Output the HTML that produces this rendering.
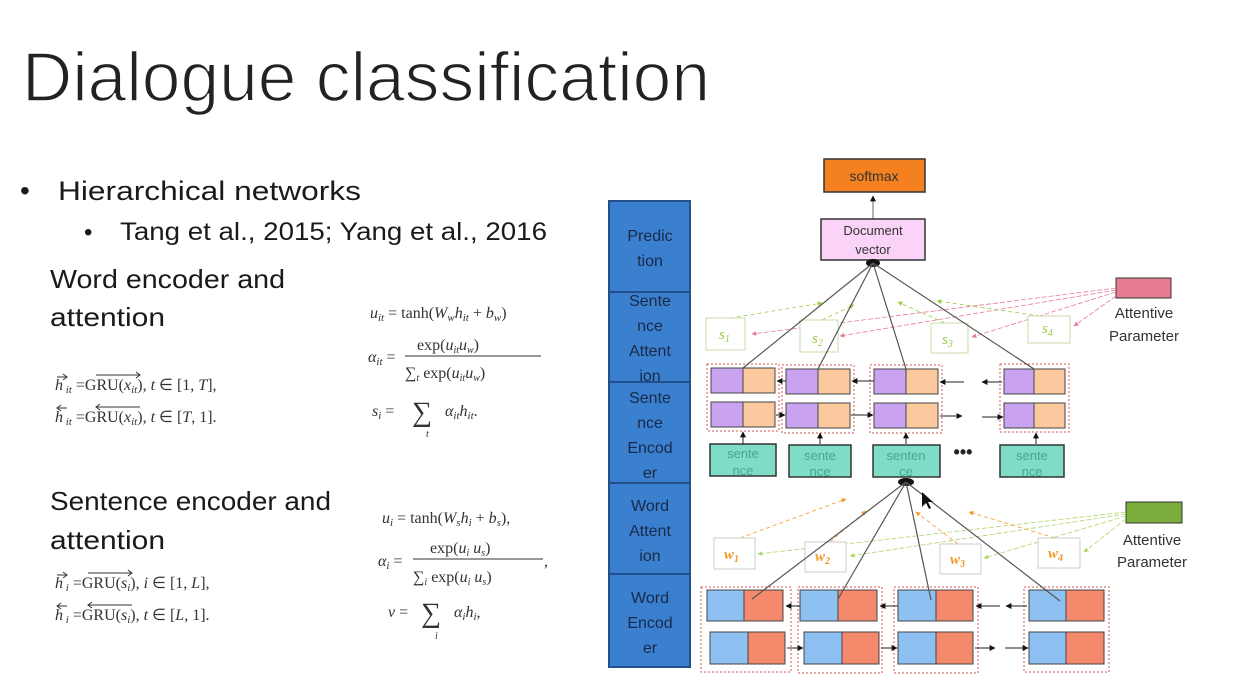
<!DOCTYPE html>
<html><head><meta charset="utf-8"><style>
html,body{margin:0;padding:0;background:#fff;}
svg{display:block;}
.s{font-family:"Liberation Sans",sans-serif;}
.m{font-family:"Liberation Serif",serif;font-size:16px;fill:#333;}
.col text{fill:#172a48;}
</style></head><body>
<svg width="1238" height="684" viewBox="0 0 1238 684" xmlns="http://www.w3.org/2000/svg">
<defs>
<marker id="a" viewBox="0 0 10 10" refX="9" refY="5" markerWidth="6" markerHeight="6" orient="auto"><path d="M0,0L10,5L0,10z" fill="#111"/></marker>
<marker id="g" viewBox="0 0 10 10" refX="9" refY="5" markerWidth="6" markerHeight="6" orient="auto"><path d="M0,0L10,5L0,10z" fill="#9c4"/></marker>
<marker id="p" viewBox="0 0 10 10" refX="9" refY="5" markerWidth="6" markerHeight="6" orient="auto"><path d="M0,0L10,5L0,10z" fill="#e57c94"/></marker>
<marker id="o" viewBox="0 0 10 10" refX="9" refY="5" markerWidth="6" markerHeight="6" orient="auto"><path d="M0,0L10,5L0,10z" fill="#f39a2b"/></marker>
</defs>
<rect width="1238" height="684" fill="#fff"/>
<g class="s" fill="#1a1a1a">
<text x="22" y="101" font-size="70" textLength="688" lengthAdjust="spacingAndGlyphs" fill="#222" stroke="#fff" stroke-width="1.6">Dialogue classification</text>
<text x="20" y="200" font-size="28">•</text>
<text x="58" y="200" font-size="27" textLength="303" lengthAdjust="spacingAndGlyphs">Hierarchical networks</text>
<text x="84" y="240" font-size="24">•</text>
<text x="120" y="240" font-size="25" textLength="427" lengthAdjust="spacingAndGlyphs">Tang et al., 2015; Yang et al., 2016</text>
<text x="50" y="288" font-size="26" textLength="235" lengthAdjust="spacingAndGlyphs">Word encoder and</text>
<text x="50" y="326" font-size="26" textLength="115" lengthAdjust="spacingAndGlyphs">attention</text>
<text x="50" y="510" font-size="26" textLength="281" lengthAdjust="spacingAndGlyphs">Sentence encoder and</text>
<text x="50" y="549" font-size="26" textLength="115" lengthAdjust="spacingAndGlyphs">attention</text>
</g>
<g class="m">
<text x="55" y="390"><tspan font-style="italic">h</tspan><tspan font-size="11" font-style="italic" dy="3"> it</tspan><tspan dy="-3"> =GRU(</tspan><tspan font-style="italic">x</tspan><tspan font-size="11" font-style="italic" dy="3">it</tspan><tspan dy="-3">), </tspan><tspan font-style="italic">t</tspan> ∈ [1, <tspan font-style="italic">T</tspan>],</text>
<text x="55" y="422"><tspan font-style="italic">h</tspan><tspan font-size="11" font-style="italic" dy="3"> it</tspan><tspan dy="-3"> =GRU(</tspan><tspan font-style="italic">x</tspan><tspan font-size="11" font-style="italic" dy="3">it</tspan><tspan dy="-3">), </tspan><tspan font-style="italic">t</tspan> ∈ [<tspan font-style="italic">T</tspan>, 1].</text>
<path d="M57,377h10M63,374l4,3-4,3M96,375h44M136,372l4,3-4,3M57,408h10M61,405l-4,3 4,3M96,407h44M100,404l-4,3 4,3" stroke="#333" fill="none" stroke-width="1"/>
<text x="370" y="318"><tspan font-style="italic">u</tspan><tspan font-size="11" font-style="italic" dy="3">it</tspan><tspan dy="-3"> = tanh(</tspan><tspan font-style="italic">W</tspan><tspan font-size="11" font-style="italic" dy="3">w</tspan><tspan dy="-3" font-style="italic">h</tspan><tspan font-size="11" font-style="italic" dy="3">it</tspan><tspan dy="-3"> + </tspan><tspan font-style="italic">b</tspan><tspan font-size="11" font-style="italic" dy="3">w</tspan><tspan dy="-3">)</tspan></text>
<text x="368" y="362"><tspan font-style="italic">α</tspan><tspan font-size="11" font-style="italic" dy="3">it</tspan><tspan dy="-3"> =</tspan></text>
<text x="417" y="350">exp(<tspan font-style="italic">u</tspan><tspan font-size="10" font-style="italic" dy="3">it</tspan><tspan dy="-3" font-style="italic">u</tspan><tspan font-size="10" font-style="italic" dy="3">w</tspan><tspan dy="-3">)</tspan></text>
<line x1="405" y1="356" x2="541" y2="356" stroke="#333"/>
<text x="405" y="378">∑<tspan font-size="10" font-style="italic" dy="3">t</tspan><tspan dy="-3"> exp(</tspan><tspan font-style="italic">u</tspan><tspan font-size="10" font-style="italic" dy="3">it</tspan><tspan dy="-3" font-style="italic">u</tspan><tspan font-size="10" font-style="italic" dy="3">w</tspan><tspan dy="-3">)</tspan></text>
<text x="372" y="416"><tspan font-style="italic">s</tspan><tspan font-size="11" font-style="italic" dy="3">i</tspan><tspan dy="-3"> =</tspan></text>
<text x="412" y="421" font-size="28">∑</text>
<text x="426" y="437" font-size="10" font-style="italic">t</text>
<text x="445" y="416"><tspan font-style="italic">α</tspan><tspan font-size="11" font-style="italic" dy="3">it</tspan><tspan dy="-3" font-style="italic">h</tspan><tspan font-size="11" font-style="italic" dy="3">it</tspan><tspan dy="-3">.</tspan></text>
<text x="55" y="588"><tspan font-style="italic">h</tspan><tspan font-size="11" font-style="italic" dy="3"> i</tspan><tspan dy="-3"> =GRU(</tspan><tspan font-style="italic">s</tspan><tspan font-size="11" font-style="italic" dy="3">i</tspan><tspan dy="-3">), </tspan><tspan font-style="italic">i</tspan> ∈ [1, <tspan font-style="italic">L</tspan>],</text>
<text x="55" y="620"><tspan font-style="italic">h</tspan><tspan font-size="11" font-style="italic" dy="3"> i</tspan><tspan dy="-3"> =GRU(</tspan><tspan font-style="italic">s</tspan><tspan font-size="11" font-style="italic" dy="3">i</tspan><tspan dy="-3">), </tspan><tspan font-style="italic">t</tspan> ∈ [<tspan font-style="italic">L</tspan>, 1].</text>
<path d="M57,575h10M63,572l4,3-4,3M88,573h44M128,570l4,3-4,3M57,606h10M61,603l-4,3 4,3M88,605h44M92,602l-4,3 4,3" stroke="#333" fill="none" stroke-width="1"/>
<text x="382" y="523"><tspan font-style="italic">u</tspan><tspan font-size="11" font-style="italic" dy="3">i</tspan><tspan dy="-3"> = tanh(</tspan><tspan font-style="italic">W</tspan><tspan font-size="11" font-style="italic" dy="3">s</tspan><tspan dy="-3" font-style="italic">h</tspan><tspan font-size="11" font-style="italic" dy="3">i</tspan><tspan dy="-3"> + </tspan><tspan font-style="italic">b</tspan><tspan font-size="11" font-style="italic" dy="3">s</tspan><tspan dy="-3">),</tspan></text>
<text x="378" y="566"><tspan font-style="italic">α</tspan><tspan font-size="11" font-style="italic" dy="3">i</tspan><tspan dy="-3"> =</tspan></text>
<text x="430" y="553">exp(<tspan font-style="italic">u</tspan><tspan font-size="10" font-style="italic" dy="3">i</tspan><tspan dy="-3" font-style="italic"> u</tspan><tspan font-size="10" font-style="italic" dy="3">s</tspan><tspan dy="-3">)</tspan></text>
<line x1="413" y1="559" x2="543" y2="559" stroke="#333"/>
<text x="413" y="582">∑<tspan font-size="10" font-style="italic" dy="3">i</tspan><tspan dy="-3"> exp(</tspan><tspan font-style="italic">u</tspan><tspan font-size="10" font-style="italic" dy="3">i</tspan><tspan dy="-3" font-style="italic"> u</tspan><tspan font-size="10" font-style="italic" dy="3">s</tspan><tspan dy="-3">)</tspan></text>
<text x="544" y="566">,</text>
<text x="388" y="617"><tspan font-style="italic">v</tspan> =</text>
<text x="421" y="622" font-size="28">∑</text>
<text x="435" y="639" font-size="10" font-style="italic">i</text>
<text x="454" y="617"><tspan font-style="italic">α</tspan><tspan font-size="11" font-style="italic" dy="3">i</tspan><tspan dy="-3" font-style="italic">h</tspan><tspan font-size="11" font-style="italic" dy="3">i</tspan><tspan dy="-3">,</tspan></text>
</g>
<g class="s col" font-size="16" text-anchor="middle">
<rect x="609" y="201" width="81" height="466" fill="#3b7fcf" stroke="#22508a" stroke-width="2"/>
<line x1="609" y1="292" x2="690" y2="292" stroke="#22508a" stroke-width="2"/>
<line x1="609" y1="382" x2="690" y2="382" stroke="#22508a" stroke-width="2"/>
<line x1="609" y1="483" x2="690" y2="483" stroke="#22508a" stroke-width="2"/>
<line x1="609" y1="574" x2="690" y2="574" stroke="#22508a" stroke-width="2"/>
<text x="650" y="241">Predic</text><text x="650" y="266">tion</text>
<text x="650" y="306">Sente</text><text x="650" y="331">nce</text><text x="650" y="356">Attent</text><text x="650" y="381">ion</text>
<text x="650" y="403">Sente</text><text x="650" y="428">nce</text><text x="650" y="453">Encod</text><text x="650" y="478">er</text>
<text x="650" y="511">Word</text><text x="650" y="536">Attent</text><text x="650" y="561">ion</text>
<text x="650" y="603">Word</text><text x="650" y="628">Encod</text><text x="650" y="653">er</text>
</g>
<rect x="824" y="159" width="101" height="33" fill="#f4801f" stroke="#333" stroke-width="1.5"/>
<text x="874" y="181" class="s" font-size="14" fill="#333" text-anchor="middle">softmax</text>
<line x1="873" y1="219" x2="873" y2="196" stroke="#666" marker-end="url(#a)"/>
<rect x="821" y="219" width="104" height="41" fill="#fbd3f8" stroke="#333" stroke-width="1.5"/>
<text x="873" y="235" class="s" font-size="13" fill="#333" text-anchor="middle">Document</text>
<text x="873" y="254" class="s" font-size="13" fill="#333" text-anchor="middle">vector</text>
<ellipse cx="873" cy="263" rx="7" ry="4" fill="#111"/>
<rect x="1116" y="278" width="55" height="20" fill="#e57c94" stroke="#333"/>
<text x="1144" y="318" class="s" font-size="15" fill="#333" text-anchor="middle">Attentive</text>
<text x="1144" y="341" class="s" font-size="15" fill="#333" text-anchor="middle">Parameter</text>
<g stroke="#e57c94" stroke-width="0.8" stroke-dasharray="5,2" fill="none">
<line x1="1116" y1="288" x2="752" y2="334" marker-end="url(#p)"/>
<line x1="1116" y1="290" x2="840" y2="336" marker-end="url(#p)"/>
<line x1="1116" y1="292" x2="972" y2="337" marker-end="url(#p)"/>
<line x1="1116" y1="296" x2="1074" y2="326" marker-end="url(#p)"/>
</g>
<g stroke="#9c4" stroke-width="0.8" stroke-dasharray="4,3" fill="none">
<line x1="730" y1="318" x2="822" y2="303" marker-end="url(#g)"/>
<line x1="822" y1="320" x2="854" y2="305" marker-end="url(#g)"/>
<line x1="945" y1="323" x2="898" y2="302" marker-end="url(#g)"/>
<line x1="1040" y1="316" x2="937" y2="301" marker-end="url(#g)"/>
</g>
<g stroke="#c9dca8" fill="#fff">
<rect x="706" y="318" width="39" height="32"/>
<rect x="800" y="320" width="38" height="32"/>
<rect x="931" y="323" width="37" height="30"/>
<rect x="1028" y="316" width="42" height="27"/>
</g>
<g font-family="Liberation Serif,serif" font-size="15" font-style="italic" fill="#9c4">
<text x="719" y="339">s<tspan font-size="10" dy="3">1</tspan></text>
<text x="812" y="343">s<tspan font-size="10" dy="3">2</tspan></text>
<text x="942" y="344">s<tspan font-size="10" dy="3">3</tspan></text>
<text x="1042" y="333">s<tspan font-size="10" dy="3">4</tspan></text>
</g>
<g stroke="#d9534f" stroke-width="1" stroke-dasharray="2,2" fill="none">
<rect x="707" y="364" width="72" height="67"/>
<rect x="782" y="365" width="72" height="68"/>
<rect x="870" y="365" width="72" height="68"/>
<rect x="1000" y="364" width="69" height="68"/>
</g>
<g stroke="#444" stroke-width="1">
<rect x="711" y="368" width="32" height="25" fill="#c9a3f0"/><rect x="743" y="368" width="32" height="25" fill="#fcc99e"/>
<rect x="711" y="402" width="32" height="25" fill="#c9a3f0"/><rect x="743" y="402" width="32" height="25" fill="#fcc99e"/>
<rect x="786" y="369" width="32" height="25" fill="#c9a3f0"/><rect x="818" y="369" width="32" height="25" fill="#fcc99e"/>
<rect x="786" y="403" width="32" height="25" fill="#c9a3f0"/><rect x="818" y="403" width="32" height="25" fill="#fcc99e"/>
<rect x="874" y="369" width="32" height="25" fill="#c9a3f0"/><rect x="906" y="369" width="32" height="25" fill="#fcc99e"/>
<rect x="874" y="403" width="32" height="25" fill="#c9a3f0"/><rect x="906" y="403" width="32" height="25" fill="#fcc99e"/>
<rect x="1004" y="369" width="30" height="25" fill="#c9a3f0"/><rect x="1034" y="369" width="31" height="25" fill="#fcc99e"/>
<rect x="1004" y="403" width="30" height="25" fill="#c9a3f0"/><rect x="1034" y="403" width="31" height="25" fill="#fcc99e"/>
</g>
<g stroke="#222" stroke-width="1" fill="none">
<line x1="786" y1="381" x2="777" y2="381" marker-end="url(#a)"/>
<line x1="874" y1="381" x2="852" y2="381" marker-end="url(#a)"/>
<line x1="964" y1="382" x2="940" y2="382" marker-end="url(#a)"/>
<line x1="1002" y1="382" x2="982" y2="382" marker-end="url(#a)"/>
<line x1="776" y1="415" x2="785" y2="415" marker-end="url(#a)"/>
<line x1="851" y1="415" x2="873" y2="415" marker-end="url(#a)"/>
<line x1="940" y1="416" x2="962" y2="416" marker-end="url(#a)"/>
<line x1="982" y1="417" x2="1003" y2="417" marker-end="url(#a)"/>
<line x1="743" y1="444" x2="743" y2="432" marker-end="url(#a)"/>
<line x1="820" y1="444" x2="820" y2="433" marker-end="url(#a)"/>
<line x1="906" y1="444" x2="906" y2="433" marker-end="url(#a)"/>
<line x1="1036" y1="444" x2="1036" y2="433" marker-end="url(#a)"/>
</g>
<g stroke="#555" stroke-width="1.2">
<line x1="873" y1="263" x2="743" y2="368"/>
<line x1="873" y1="263" x2="818" y2="369"/>
<line x1="873" y1="263" x2="906" y2="369"/>
<line x1="873" y1="263" x2="1034" y2="369"/>
</g>
<g stroke="#333" stroke-width="1.5" fill="#7fdcc6">
<rect x="710" y="444" width="66" height="32"/>
<rect x="789" y="445" width="62" height="32"/>
<rect x="873" y="445" width="67" height="32"/>
<rect x="1000" y="445" width="64" height="32"/>
</g>
<g class="s" font-size="13" fill="#4a8" text-anchor="middle">
<text x="743" y="458">sente</text><text x="743" y="475">nce</text>
<text x="820" y="460">sente</text><text x="820" y="476">nce</text>
<text x="906" y="460">senten</text><text x="906" y="476">ce</text>
<text x="1032" y="460">sente</text><text x="1032" y="476">nce</text>
</g>
<text x="963" y="458" class="s" font-size="18" font-weight="bold" fill="#222" text-anchor="middle">•••</text>
<ellipse cx="906" cy="482" rx="8" ry="4" fill="#111"/>
<rect x="1126" y="502" width="56" height="21" fill="#7aad3c" stroke="#333"/>
<text x="1152" y="545" class="s" font-size="15" fill="#333" text-anchor="middle">Attentive</text>
<text x="1152" y="567" class="s" font-size="15" fill="#333" text-anchor="middle">Parameter</text>
<g stroke="#9c4" stroke-width="0.8" stroke-dasharray="5,2" fill="none" opacity="0.8">
<line x1="1126" y1="512" x2="758" y2="554" marker-end="url(#g)"/>
<line x1="1126" y1="514" x2="850" y2="556" marker-end="url(#g)"/>
<line x1="1126" y1="516" x2="984" y2="558" marker-end="url(#g)"/>
<line x1="1126" y1="519" x2="1084" y2="552" marker-end="url(#g)"/>
</g>
<g stroke="#f39a2b" stroke-width="0.8" stroke-dasharray="4,3" fill="none">
<line x1="740" y1="538" x2="846" y2="499" marker-end="url(#o)"/>
<line x1="830" y1="542" x2="866" y2="511" marker-end="url(#o)"/>
<line x1="958" y1="544" x2="916" y2="512" marker-end="url(#o)"/>
<line x1="1055" y1="538" x2="969" y2="512" marker-end="url(#o)"/>
</g>
<g stroke="#ccc" fill="#fff">
<rect x="714" y="538" width="41" height="31"/>
<rect x="805" y="542" width="41" height="30"/>
<rect x="940" y="544" width="41" height="30"/>
<rect x="1038" y="538" width="42" height="30"/>
</g>
<g font-family="Liberation Serif,serif" font-size="15" font-style="italic" font-weight="bold" fill="#f39a2b">
<text x="724" y="559">w<tspan font-size="10" dy="3">1</tspan></text>
<text x="815" y="561">w<tspan font-size="10" dy="3">2</tspan></text>
<text x="950" y="564">w<tspan font-size="10" dy="3">3</tspan></text>
<text x="1048" y="558">w<tspan font-size="10" dy="3">4</tspan></text>
</g>
<g stroke="#d9534f" stroke-width="1" stroke-dasharray="2,2" fill="none">
<rect x="701" y="587" width="90" height="85"/>
<rect x="798" y="587" width="84" height="86"/>
<rect x="894" y="587" width="84" height="86"/>
<rect x="1024" y="587" width="85" height="85"/>
</g>
<g stroke="#444" stroke-width="1">
<rect x="707" y="590" width="37" height="31" fill="#8ec0f2"/><rect x="744" y="590" width="39" height="31" fill="#f4896b"/>
<rect x="710" y="632" width="38" height="32" fill="#8ec0f2"/><rect x="748" y="632" width="37" height="32" fill="#f4896b"/>
<rect x="800" y="590" width="38" height="31" fill="#8ec0f2"/><rect x="838" y="590" width="39" height="31" fill="#f4896b"/>
<rect x="804" y="632" width="38" height="32" fill="#8ec0f2"/><rect x="842" y="632" width="37" height="32" fill="#f4896b"/>
<rect x="898" y="590" width="38" height="31" fill="#8ec0f2"/><rect x="936" y="590" width="37" height="31" fill="#f4896b"/>
<rect x="898" y="632" width="38" height="32" fill="#8ec0f2"/><rect x="936" y="632" width="37" height="32" fill="#f4896b"/>
<rect x="1029" y="590" width="37" height="31" fill="#8ec0f2"/><rect x="1066" y="590" width="38" height="31" fill="#f4896b"/>
<rect x="1029" y="632" width="37" height="32" fill="#8ec0f2"/><rect x="1066" y="632" width="38" height="32" fill="#f4896b"/>
</g>
<g stroke="#222" stroke-width="1" fill="none">
<line x1="800" y1="606" x2="786" y2="606" marker-end="url(#a)"/>
<line x1="898" y1="606" x2="880" y2="606" marker-end="url(#a)"/>
<line x1="1000" y1="606" x2="976" y2="606" marker-end="url(#a)"/>
<line x1="1027" y1="606" x2="1006" y2="606" marker-end="url(#a)"/>
<line x1="787" y1="648" x2="803" y2="648" marker-end="url(#a)"/>
<line x1="881" y1="648" x2="897" y2="648" marker-end="url(#a)"/>
<line x1="975" y1="648" x2="995" y2="648" marker-end="url(#a)"/>
<line x1="1005" y1="648" x2="1028" y2="648" marker-end="url(#a)"/>
</g>
<g stroke="#555" stroke-width="1.2">
<line x1="906" y1="482" x2="752" y2="599"/>
<line x1="906" y1="482" x2="838" y2="599"/>
<line x1="906" y1="482" x2="931" y2="600"/>
<line x1="906" y1="482" x2="1060" y2="601"/>
</g>
<path d="M922,492l0,15 4,-4 3,6 2,-1 -3,-6 5,0z" fill="#111"/>
</svg>
</body></html>
